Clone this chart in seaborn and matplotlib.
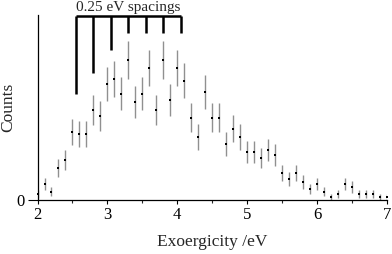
import matplotlib
matplotlib.use("Agg")
import matplotlib.pyplot as plt
from matplotlib.ticker import MultipleLocator
import seaborn as sns
import numpy as np
import pandas as pd

# energy bins (eV)
energy = [2.0, 2.1, 2.2, 2.3, 2.4, 2.5, 2.6, 2.7, 2.8, 2.9,
          3.0, 3.1, 3.2, 3.3, 3.4, 3.5, 3.6, 3.7, 3.8, 3.9,
          4.0, 4.1, 4.2, 4.3, 4.4, 4.5, 4.6, 4.7, 4.8, 4.9,
          5.0, 5.1, 5.2, 5.3, 5.4, 5.5, 5.6, 5.7, 5.8, 5.9,
          6.0, 6.1, 6.2, 6.3, 6.4, 6.5, 6.6, 6.7, 6.8, 6.9, 7.0]
counts = [6, 16, 8, 32, 40, 68, 66, 66, 90, 84,
          116, 121, 106, 140, 98, 106, 132, 90, 140, 100,
          132, 119, 82, 63, 108, 82, 82, 56, 71, 63,
          48, 48, 42, 50, 45, 27, 21, 27, 18, 11,
          16, 8, 3, 6, 16, 13, 6, 6, 6, 3, 3]
errors = [3.9, 6.4, 4.5, 9.1, 10.1, 13.2, 13.0, 13.0, 15.2, 14.7,
          17.2, 17.6, 16.5, 18.9, 15.8, 16.5, 18.4, 15.2, 18.9, 16.0,
          18.4, 17.5, 14.5, 12.7, 16.6, 14.5, 14.5, 12.0, 13.5, 12.7,
          11.1, 11.1, 10.4, 11.3, 10.7, 8.3, 7.3, 8.3, 6.8, 5.3,
          6.4, 4.5, 2.8, 3.9, 6.4, 5.8, 3.9, 3.9, 3.9, 2.8, 2.8]

# comb marking the 0.25 eV spacings
spacing_pos = [2.55, 2.80, 3.05, 3.30, 3.55, 3.80, 4.05]
spacing_bottom = [106, 127, 150, 167, 167, 167, 167]
spacing_top = 184

df = pd.DataFrame({"energy": energy, "counts": counts, "err": errors})

sns.set_style("ticks")
plt.rcParams["font.family"] = ["Liberation Serif", "DejaVu Serif"]

fig = plt.figure(figsize=(3.92, 2.54), dpi=100)
ax = fig.add_axes([0.0957, 0.2126, 0.8913, 0.7284])

ax.errorbar(df["energy"], df["counts"], yerr=df["err"], fmt="none",
            ecolor="#909090", elinewidth=1.0, capsize=0, zorder=2)
sns.scatterplot(data=df, x="energy", y="counts", ax=ax, marker="s", s=3,
                color="black", linewidth=0, zorder=3, clip_on=False)

ax.vlines(spacing_pos, spacing_bottom, spacing_top, colors="black",
          linewidth=1.8, clip_on=False)
ax.hlines(spacing_top, spacing_pos[0], spacing_pos[-1], colors="black",
          linewidth=1.8, clip_on=False)
ax.text(np.mean([spacing_pos[0], spacing_pos[-1]]), 186, "0.25 eV spacings",
        ha="center", va="bottom", fontsize=11, clip_on=False)

ax.set_xlim(2, 7)
ax.set_ylim(0, 185)
ax.xaxis.set_major_locator(MultipleLocator(1))
ax.xaxis.set_minor_locator(MultipleLocator(0.5))
ax.set_yticks([0])
ax.tick_params(axis="both", which="major", direction="out", length=3,
               width=0.8, labelsize=12, colors="black", pad=2)
ax.tick_params(axis="y", which="major", length=7)
ax.tick_params(axis="x", which="minor", direction="out", length=2, width=0.8)

for side in ["top", "right"]:
    ax.spines[side].set_visible(False)
for side in ["left", "bottom"]:
    ax.spines[side].set_linewidth(0.9)
    ax.spines[side].set_color("black")

ax.set_xlabel("Exoergicity /eV", fontsize=12.5, labelpad=8)
ax.set_ylabel("Counts", fontsize=12.5)
ax.yaxis.set_label_coords(-0.062, 0.5)

fig.savefig("out.png", dpi=100)
